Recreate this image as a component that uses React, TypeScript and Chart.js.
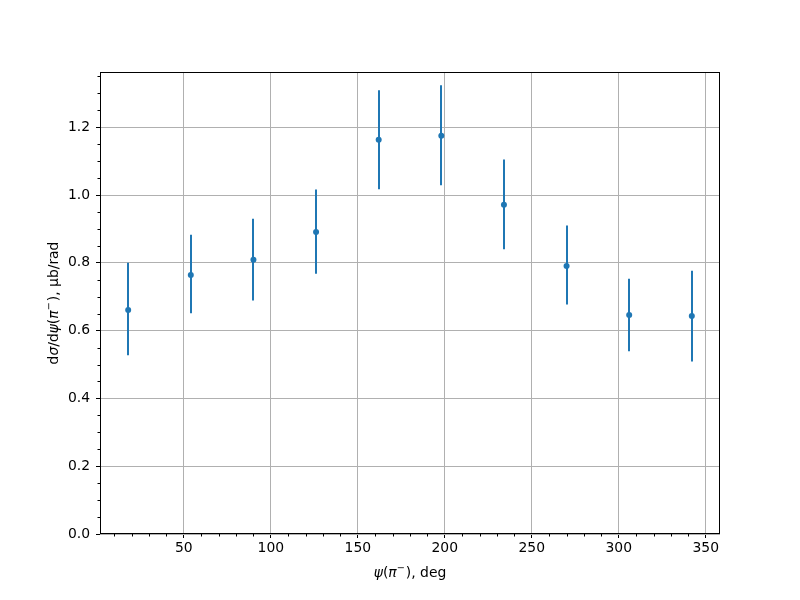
import React, { useEffect, useRef } from "react";
import { Chart, registerables } from "chart.js";

Chart.register(...registerables);

const psiDeg = [18, 54, 90, 126, 162, 198, 234, 270, 306, 342];
const dsigma = [0.661, 0.764, 0.809, 0.891, 1.163, 1.175, 0.971, 0.791, 0.646, 0.643];
const errLow = [0.134, 0.113, 0.12, 0.123, 0.146, 0.146, 0.131, 0.114, 0.107, 0.134];
const errHigh = [0.139, 0.119, 0.121, 0.125, 0.146, 0.149, 0.134, 0.119, 0.107, 0.134];
const xTicks = [50, 100, 150, 200, 250, 300, 350];
const yTicks = [0, 0.2, 0.4, 0.6, 0.8, 1.0, 1.2];
const xMinor = [10, 20, 30, 40, 60, 70, 80, 90, 110, 120, 130, 140, 160, 170, 180, 190, 210, 220, 230, 240, 260, 270, 280, 290, 310, 320, 330, 340];
const yMinor = [0.05, 0.1, 0.15, 0.25, 0.3, 0.35, 0.45, 0.5, 0.55, 0.65, 0.7, 0.75, 0.85, 0.9, 0.95, 1.05, 1.1, 1.15, 1.25, 1.3, 1.35];

const BLUE = "#1f77b4";
const FONT = "'DejaVu Sans', sans-serif";
const FS = 13.9;

type Seg = { t: string; it?: boolean; sup?: boolean };
const xTitle: Seg[] = [
  { t: "ψ", it: true },
  { t: "(" },
  { t: "π", it: true },
  { t: "−", sup: true },
  { t: ")" },
  { t: ", deg" },
];
const yTitle: Seg[] = [
  { t: "d" },
  { t: "σ", it: true },
  { t: "/d" },
  { t: "ψ", it: true },
  { t: "(" },
  { t: "π", it: true },
  { t: "−", sup: true },
  { t: ")" },
  { t: ", μb/rad" },
];

function segFont(s: Seg) {
  const size = s.sup ? FS * 0.7 : FS;
  return `${s.it ? "italic " : ""}${size}px ${FONT}`;
}

function drawSegs(ctx: CanvasRenderingContext2D, segs: Seg[], cx: number, cy: number) {
  let total = 0;
  const widths = segs.map((s) => {
    ctx.font = segFont(s);
    const w = ctx.measureText(s.t).width + (s.sup ? 1 : 0);
    total += w;
    return w;
  });
  let x = cx - total / 2;
  ctx.textBaseline = "middle";
  ctx.textAlign = "left";
  segs.forEach((s, i) => {
    ctx.font = segFont(s);
    ctx.fillText(s.t, x, s.sup ? cy - 5 : cy);
    x += widths[i];
  });
}

const customPlugin = {
  id: "custom",
  beforeDatasetsDraw(chart: any) {
    const ctx = chart.ctx as CanvasRenderingContext2D;
    const xs = chart.scales.x;
    const ys = chart.scales.y;
    ctx.save();
    ctx.strokeStyle = BLUE;
    ctx.lineWidth = 2;
    ctx.lineCap = "butt";
    psiDeg.forEach((xv, i) => {
      const px = Math.round(xs.getPixelForValue(xv));
      ctx.beginPath();
      ctx.moveTo(px, ys.getPixelForValue(dsigma[i] - errLow[i]));
      ctx.lineTo(px, ys.getPixelForValue(dsigma[i] + errHigh[i]));
      ctx.stroke();
    });
    ctx.restore();
  },
  afterDraw(chart: any) {
    const ctx = chart.ctx as CanvasRenderingContext2D;
    const a = chart.chartArea;
    const xs = chart.scales.x;
    const ys = chart.scales.y;
    ctx.save();
    ctx.strokeStyle = "#000";
    ctx.lineWidth = 1;
    ctx.strokeRect(Math.round(a.left) + 0.5, Math.round(a.top) + 0.5, Math.round(a.right - a.left) - 1, Math.round(a.bottom - a.top) - 1);
    ctx.beginPath();
    xMinor.forEach((v) => {
      const px = Math.round(xs.getPixelForValue(v)) + 0.5;
      ctx.moveTo(px, a.bottom);
      ctx.lineTo(px, a.bottom + 2.5);
    });
    yMinor.forEach((v) => {
      const py = Math.round(ys.getPixelForValue(v)) + 0.5;
      ctx.moveTo(a.left, py);
      ctx.lineTo(a.left - 2.5, py);
    });
    ctx.stroke();
    ctx.fillStyle = "#000";
    drawSegs(ctx, xTitle, (a.left + a.right) / 2, 573);
    ctx.translate(54, (a.top + a.bottom) / 2);
    ctx.rotate(-Math.PI / 2);
    drawSegs(ctx, yTitle, 0, 0);
    ctx.restore();
  },
};

export default function App() {
  const ref = useRef<HTMLCanvasElement>(null);
  useEffect(() => {
    if (!ref.current) return;
    const chart = new Chart(ref.current, {
      type: "scatter",
      data: {
        datasets: [
          {
            data: psiDeg.map((x, i) => ({ x, y: dsigma[i] })),
            backgroundColor: BLUE,
            borderColor: BLUE,
            borderWidth: 0,
            pointRadius: 3,
            pointHoverRadius: 3,
            showLine: false,
          },
        ],
      },
      options: {
        animation: false,
        responsive: false,
        devicePixelRatio: 1,
        events: [],
        layout: { padding: { left: 0, top: 72, right: 80, bottom: 0 } },
        plugins: { legend: { display: false }, tooltip: { enabled: false }, title: { display: false } },
        scales: {
          x: {
            type: "linear",
            min: 1.8,
            max: 358.2,
            afterBuildTicks: (s: any) => {
              s.ticks = xTicks.map((v) => ({ value: v }));
            },
            afterFit: (s: any) => {
              s.height = 66;
            },
            grid: { color: "#b0b0b0", lineWidth: 1, drawTicks: true, tickLength: 4, tickColor: "#000", tickWidth: 1 },
            border: { display: false },
            ticks: { color: "#000", font: { family: FONT, size: FS }, padding: 2, maxRotation: 0, callback: (v: any) => String(v) },
          },
          y: {
            type: "linear",
            min: 0,
            max: 1.363,
            afterBuildTicks: (s: any) => {
              s.ticks = yTicks.map((v) => ({ value: v }));
            },
            afterFit: (s: any) => {
              s.width = 100;
            },
            grid: { color: "#b0b0b0", lineWidth: 1, drawTicks: true, tickLength: 4, tickColor: "#000", tickWidth: 1 },
            border: { display: false },
            ticks: { color: "#000", font: { family: FONT, size: FS }, padding: 6, callback: (v: any) => Number(v).toFixed(1) },
          },
        },
      },
      plugins: [customPlugin],
    });
    return () => chart.destroy();
  }, []);
  return (
    <div style={{ position: "absolute", left: 0, top: 0, width: 800, height: 600, background: "#fff" }}>
      <canvas ref={ref} width={800} height={600} />
    </div>
  );
}
